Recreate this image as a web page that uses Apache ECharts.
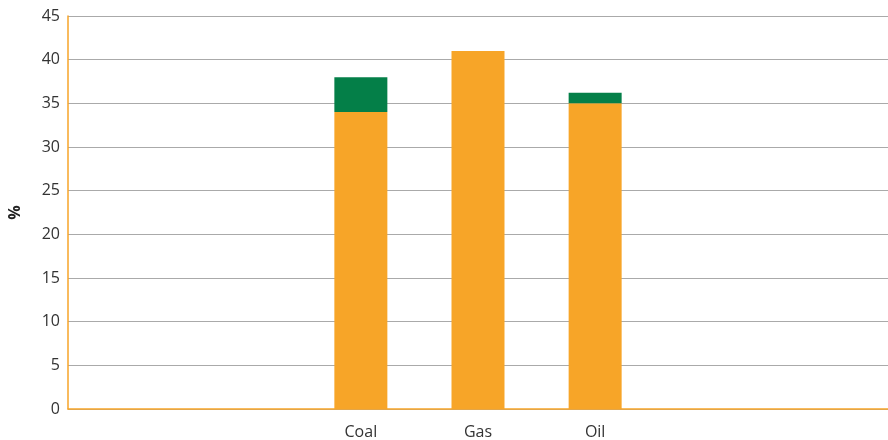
<!DOCTYPE html>
<html>
<head>
<meta charset="utf-8">
<script src="https://cdn.jsdelivr.net/npm/echarts@6/dist/echarts.min.js"></script>
<style>
  html, body { margin: 0; padding: 0; background: #fff; }
  #chart { width: 888px; height: 440px; }
</style>
</head>
<body>
<div id="chart"></div>
<script>
// Fuel categories (blank slots keep the bars centred in the plot)
var categories = ['', '', 'Coal', 'Gas', 'Oil', '', ''];
// Lower (orange) and upper (green) stacked segments, in %
var baseValues = [null, null, 34, 41, 35, null, null];
var topValues = [null, null, 4, 0, 1.2, null, null];
// Y axis range
var yMin = 0, yMax = 45, yStep = 5;

var ORANGE = '#F7A528';
var GREEN = '#047F48';
var FONT = 'Open Sans';

var chart = echarts.init(document.getElementById('chart'), null, { renderer: 'canvas' });
chart.setOption({
  animation: false,
  backgroundColor: '#ffffff',
  grid: { left: 68, right: 0, top: 16, bottom: 31, containLabel: false, outerBoundsMode: 'none' },
  xAxis: {
    type: 'category',
    data: categories,
    boundaryGap: true,
    axisLine: { show: true, lineStyle: { color: ORANGE, width: 1.5 } },
    axisTick: { show: false },
    axisLabel: { color: '#333', fontFamily: FONT, fontSize: 16, margin: 15, interval: 0 },
    splitLine: { show: false }
  },
  yAxis: {
    type: 'value',
    min: yMin, max: yMax, interval: yStep,
    name: '%',
    nameLocation: 'middle',
    nameGap: 45,
    nameRotate: 90,
    nameTextStyle: { color: '#222', fontFamily: FONT, fontSize: 16, fontWeight: 'bold' },
    axisLine: { show: true, lineStyle: { color: ORANGE, width: 1.5 } },
    axisTick: { show: false },
    axisLabel: { color: '#333', fontFamily: FONT, fontSize: 16, margin: 8 },
    splitLine: { show: true, lineStyle: { color: '#AAAAAA', width: 1 } }
  },
  series: [
    {
      type: 'bar', stack: 'total', data: baseValues, barWidth: 53,
      itemStyle: { color: ORANGE }
    },
    {
      type: 'bar', stack: 'total', data: topValues, barWidth: 53,
      itemStyle: { color: GREEN }
    }
  ]
});
</script>
</body>
</html>
